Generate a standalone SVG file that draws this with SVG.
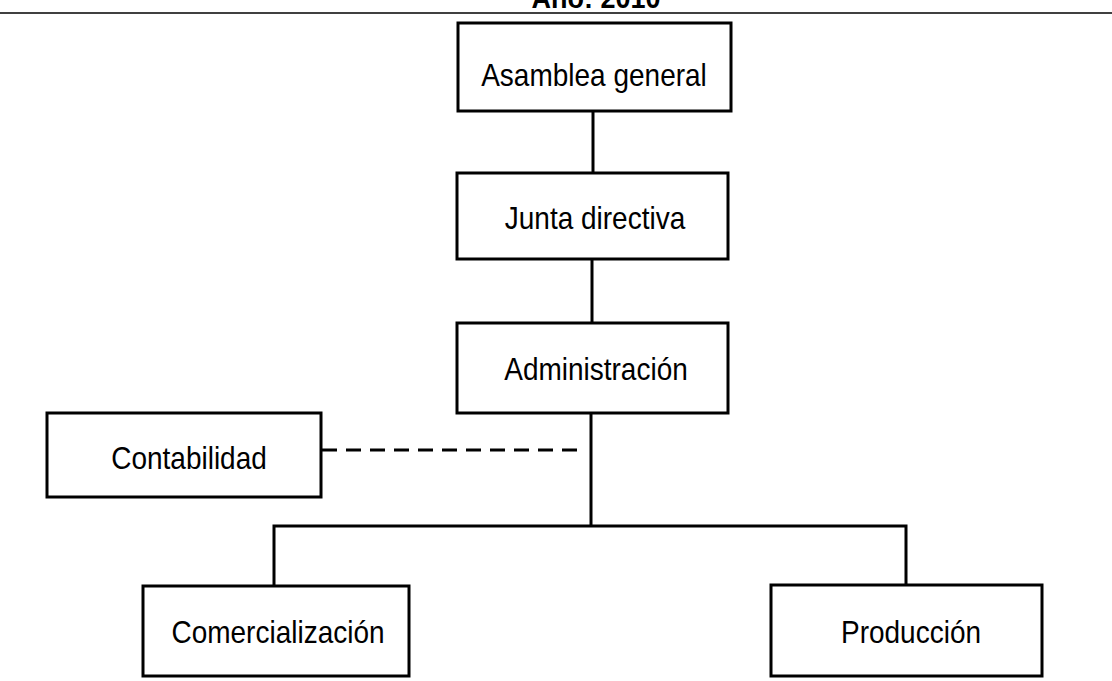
<svg xmlns="http://www.w3.org/2000/svg" width="1112" height="681" viewBox="0 0 1112 681">
<style>
.box{fill:#fff;stroke:#000;stroke-width:3}
.lbl{font-family:"Liberation Sans",Arial,sans-serif;font-size:28px;fill:#000;text-anchor:middle}
.ttl{font-family:"Liberation Sans",Arial,sans-serif;font-size:27px;font-weight:bold;fill:#000;text-anchor:middle}
.ln{stroke:#000;stroke-width:3;fill:none}
.dash{stroke:#000;stroke-width:3;fill:none;stroke-dasharray:15 9}
</style>
<rect width="1112" height="681" fill="#fff"/>
<g id="title">
<text class="ttl" transform="translate(596,8) scale(1,1.12)">Año: 2010</text>
<line x1="0" y1="13" x2="1112" y2="13" stroke="#000" stroke-width="1.5"/>
</g>
<g id="connectors">
<line class="ln" x1="593" y1="111" x2="593" y2="173"/>
<line class="ln" x1="592" y1="259" x2="592" y2="323"/>
<line class="ln" x1="591" y1="413" x2="591" y2="526"/>
<polyline class="ln" points="274,586 274,526 906,526 906,585"/>
<line class="dash" x1="322" y1="450" x2="578" y2="450"/>
</g>
<g id="asamblea">
<rect class="box" x="458" y="23" width="273" height="88"/>
<text class="lbl" transform="translate(594,86) scale(1,1.12)">Asamblea general</text>
</g>
<g id="junta">
<rect class="box" x="457" y="173" width="271" height="86"/>
<text class="lbl" transform="translate(595,229) scale(1,1.12)">Junta directiva</text>
</g>
<g id="administracion">
<rect class="box" x="457" y="323" width="271" height="90"/>
<text class="lbl" transform="translate(596,380) scale(1,1.12)">Administración</text>
</g>
<g id="contabilidad">
<rect class="box" x="47" y="413" width="274" height="84"/>
<text class="lbl" transform="translate(189,469) scale(1,1.12)">Contabilidad</text>
</g>
<g id="comercializacion">
<rect class="box" x="143" y="586" width="266" height="90"/>
<text class="lbl" transform="translate(278,643) scale(1,1.12)">Comercialización</text>
</g>
<g id="produccion">
<rect class="box" x="771" y="585" width="271" height="91"/>
<text class="lbl" transform="translate(911,643) scale(1,1.12)">Producción</text>
</g>
</svg>
